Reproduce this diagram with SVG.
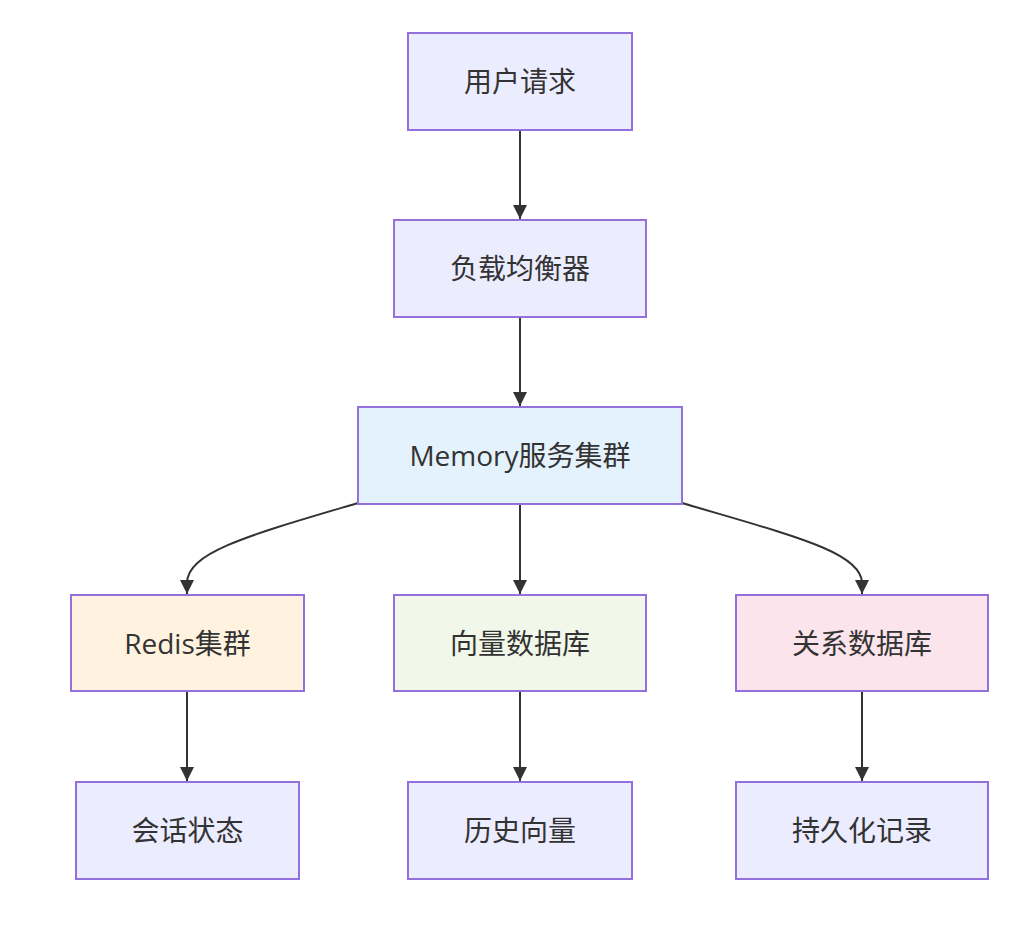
<svg xmlns="http://www.w3.org/2000/svg" width="1018" height="928" viewBox="0 0 1018 928">
<style>
.n{stroke:#9370DB;stroke-width:2}
.d{fill:#ECECFF}
.t{font-family:"Open Sans","Noto Sans CJK SC",sans-serif;font-size:28px;fill:#333;text-anchor:middle;dominant-baseline:central}
.e{fill:none;stroke:#333;stroke-width:2}
</style>
<defs>
<marker id="arr" viewBox="0 0 14 14" refX="14" refY="7" markerWidth="14" markerHeight="14" markerUnits="userSpaceOnUse" orient="auto">
<path d="M0,0 L14,7 L0,14 z" fill="#333"/>
</marker>
</defs>
<rect width="1018" height="928" fill="#fff"/>
<g id="edges">
<path class="e" d="M520,131 L520,219" marker-end="url(#arr)"/>
<path class="e" d="M520,318 L520,406" marker-end="url(#arr)"/>
<path class="e" d="M358,503 C250,535 187,552 187,583 L187,594" marker-end="url(#arr)"/>
<path class="e" d="M520,505 L520,594" marker-end="url(#arr)"/>
<path class="e" d="M682,503 C790,535 862,552 862,583 L862,594" marker-end="url(#arr)"/>
<path class="e" d="M187,692 L187,781" marker-end="url(#arr)"/>
<path class="e" d="M520,692 L520,781" marker-end="url(#arr)"/>
<path class="e" d="M862,692 L862,781" marker-end="url(#arr)"/>
</g>
<g id="n1"><rect class="n d" x="408" y="33" width="224" height="97"/><text class="t" x="520" y="81">用户请求</text></g>
<g id="n2"><rect class="n d" x="394" y="220" width="252" height="97"/><text class="t" x="520" y="268">负载均衡器</text></g>
<g id="n3"><rect class="n" fill="#E3F2FD" x="358" y="407" width="324" height="97"/><text class="t" x="520" y="455">Memory服务集群</text></g>
<g id="n4"><rect class="n" fill="#FFF3E0" x="71" y="595" width="233" height="96"/><text class="t" x="187.5" y="643">Redis集群</text></g>
<g id="n5"><rect class="n" fill="#F1F8E9" x="394" y="595" width="252" height="96"/><text class="t" x="520" y="643">向量数据库</text></g>
<g id="n6"><rect class="n" fill="#FCE4EC" x="736" y="595" width="252" height="96"/><text class="t" x="862" y="643">关系数据库</text></g>
<g id="n7"><rect class="n d" x="76" y="782" width="223" height="97"/><text class="t" x="187.5" y="830">会话状态</text></g>
<g id="n8"><rect class="n d" x="408" y="782" width="224" height="97"/><text class="t" x="520" y="830">历史向量</text></g>
<g id="n9"><rect class="n d" x="736" y="782" width="252" height="97"/><text class="t" x="862" y="830">持久化记录</text></g>
</svg>
